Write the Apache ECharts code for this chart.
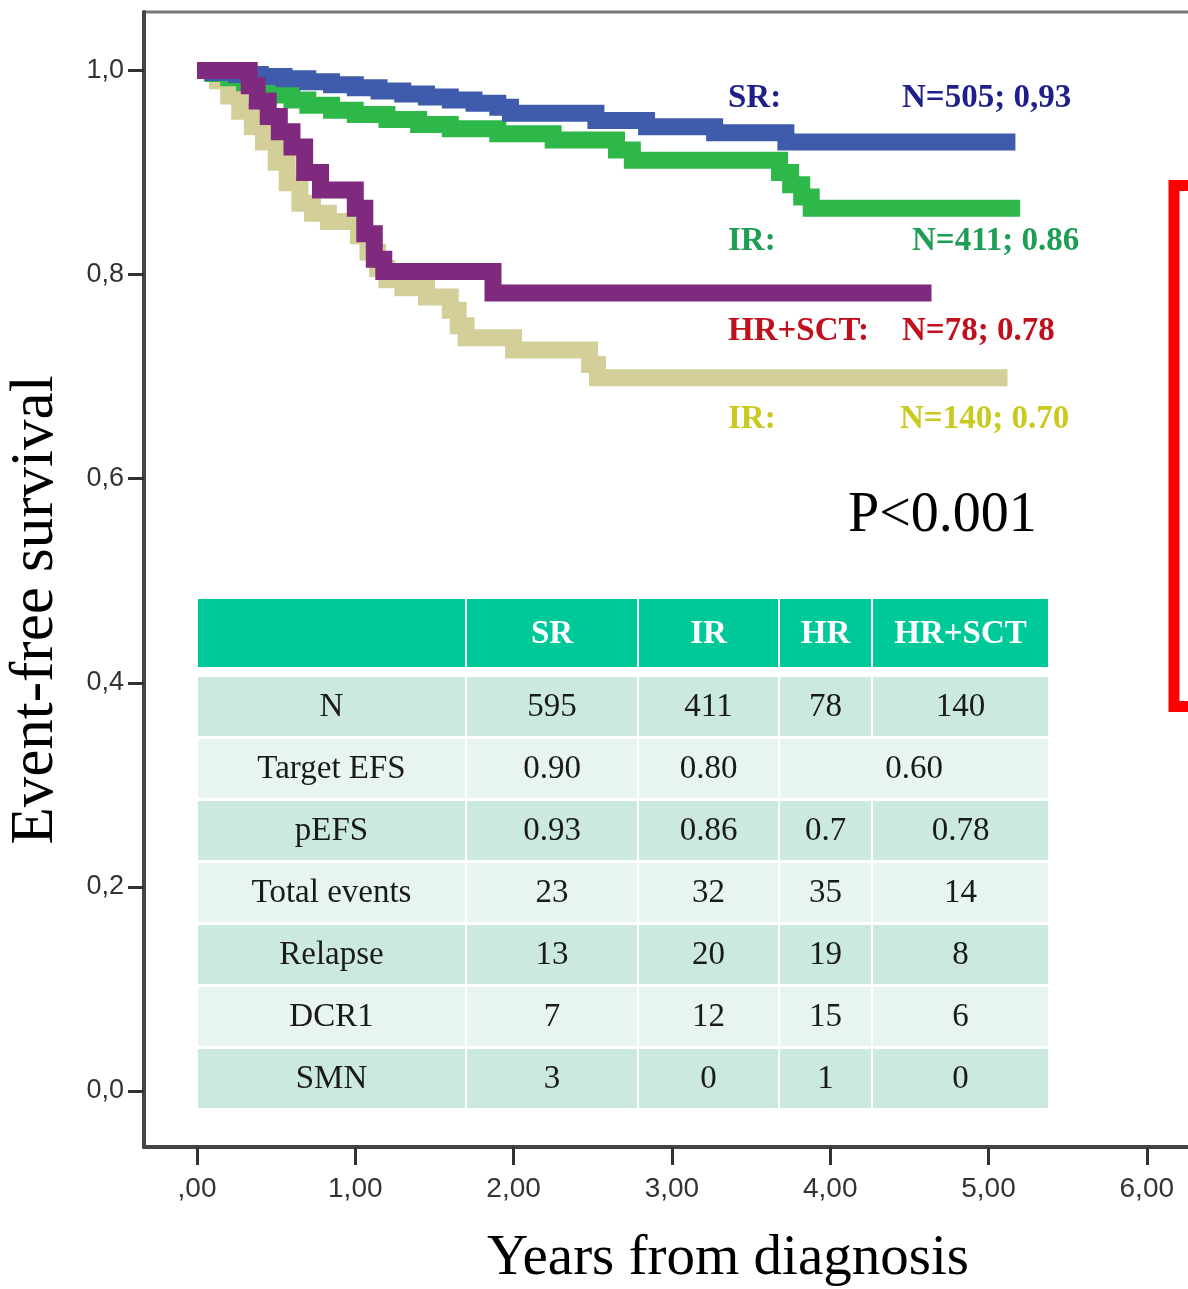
<!DOCTYPE html>
<html>
<head>
<meta charset="utf-8">
<title>Event-free survival</title>
<script src="https://cdn.jsdelivr.net/npm/echarts@6/dist/echarts.min.js"></script>
<style>
  html, body { margin: 0; padding: 0; background: #fff; }
  #chart { width: 1188px; height: 1289px; }
</style>
</head>
<body>
<div id="chart"></div>
<script>
// Kaplan-Meier steps (years, survival from that time on)
const srTimes  = [0, 0.10, 0.25, 0.40, 0.55, 0.70, 0.85, 1.00, 1.15, 1.30, 1.45, 1.60, 1.75, 1.90, 1.98, 2.52, 2.84, 3.27, 3.72, 5.17];
const srValues = [1, 0.998, 0.996, 0.994, 0.992, 0.989, 0.986, 0.983, 0.980, 0.977, 0.974, 0.971, 0.968, 0.964, 0.958, 0.951, 0.945, 0.939, 0.930, 0.930];

const irTimes  = [0, 0.10, 0.20, 0.30, 0.40, 0.50, 0.60, 0.70, 0.85, 1.00, 1.20, 1.40, 1.60, 1.90, 2.25, 2.65, 2.75, 3.68, 3.75, 3.82, 3.88, 5.20];
const irValues = [1, 0.997, 0.993, 0.988, 0.982, 0.976, 0.971, 0.966, 0.961, 0.957, 0.952, 0.947, 0.943, 0.938, 0.932, 0.922, 0.912, 0.900, 0.888, 0.876, 0.865, 0.865];

const hrSctTimes  = [0, 0.33, 0.38, 0.45, 0.52, 0.60, 0.68, 0.78, 1.00, 1.06, 1.12, 1.18, 1.87, 4.64];
const hrSctValues = [1, 0.985, 0.970, 0.955, 0.940, 0.925, 0.900, 0.883, 0.865, 0.840, 0.815, 0.803, 0.782, 0.782];

const hrTimes  = [0, 0.13, 0.20, 0.27, 0.35, 0.42, 0.50, 0.57, 0.65, 0.73, 0.83, 1.02, 1.08, 1.14, 1.20, 1.30, 1.45, 1.60, 1.65, 1.70, 2.00, 2.48, 2.53, 5.12];
const hrValues = [1, 0.990, 0.975, 0.960, 0.945, 0.930, 0.910, 0.890, 0.870, 0.860, 0.852, 0.838, 0.822, 0.806, 0.795, 0.787, 0.778, 0.765, 0.750, 0.738, 0.726, 0.712, 0.699, 0.699];

const xTicks = [0, 1, 2, 3, 4, 5, 6];
const yTicks = [0, 0.2, 0.4, 0.6, 0.8, 1.0];

const curveLabels = [
  { group: 'SR:',     stat: 'N=505; 0,93', color: '#1f1f8c', y: 98,  statX: 902 },
  { group: 'IR:',     stat: 'N=411; 0.86', color: '#1e9e55', y: 241, statX: 912 },
  { group: 'HR+SCT:', stat: 'N=78; 0.78',  color: '#c0101c', y: 331, statX: 902 },
  { group: 'IR:',     stat: 'N=140; 0.70', color: '#c9c91e', y: 419, statX: 900 }
];

const tableHeader = ['', 'SR', 'IR', 'HR', 'HR+SCT'];
// null = merged into the cell on its left
const tableRows = [
  ['N', '595', '411', '78', '140'],
  ['Target EFS', '0.90', '0.80', '0.60', null],
  ['pEFS', '0.93', '0.86', '0.7', '0.78'],
  ['Total events', '23', '32', '35', '14'],
  ['Relapse', '13', '20', '19', '8'],
  ['DCR1', '7', '12', '15', '6'],
  ['SMN', '3', '0', '1', '0']
];

const pair = (t, v) => t.map((x, i) => [x, v[i]]);
const serif = '"Liberation Serif", "Times New Roman", serif';
const sans = '"Liberation Sans", Arial, sans-serif';

// table layout
const colEdges = [[198, 465], [467, 637], [639, 778], [780, 871], [873, 1048]];
const headTop = 599, headH = 68;
const rowTop = 677, rowPitch = 62, rowH = 59;
const graphic = [];

tableHeader.forEach((h, c) => {
  const [x0, x1] = colEdges[c];
  graphic.push({ type: 'rect', shape: { x: x0, y: headTop, width: x1 - x0, height: headH }, style: { fill: '#00c999' }, z: 1 });
  if (h) graphic.push({ type: 'text', x: (x0 + x1) / 2, y: headTop + headH / 2 + 1, style: { text: h, fill: '#fff', font: 'bold 33px ' + serif, align: 'center', verticalAlign: 'middle' }, z: 2 });
});

tableRows.forEach((row, r) => {
  const y = rowTop + r * rowPitch;
  const fill = r % 2 === 0 ? '#cbeadd' : '#e7f5ee';
  row.forEach((cell, c) => {
    if (cell === null) return;
    let [x0, x1] = colEdges[c];
    let k = c + 1;
    while (k < row.length && row[k] === null) { x1 = colEdges[k][1]; k++; }
    graphic.push({ type: 'rect', shape: { x: x0, y: y, width: x1 - x0, height: rowH }, style: { fill: fill }, z: 1 });
    graphic.push({ type: 'text', x: (x0 + x1) / 2, y: y + rowH / 2 + 1, style: { text: cell, fill: '#1a1a1a', font: '33px ' + serif, align: 'center', verticalAlign: 'middle' }, z: 2 });
  });
});

curveLabels.forEach(l => {
  graphic.push({ type: 'text', x: 728, y: l.y, style: { text: l.group, fill: l.color, font: 'bold 33px ' + serif, verticalAlign: 'middle' }, z: 3 });
  graphic.push({ type: 'text', x: l.statX, y: l.y, style: { text: l.stat, fill: l.color, font: 'bold 33px ' + serif, verticalAlign: 'middle' }, z: 3 });
});

graphic.push({ type: 'text', x: 848, y: 516, style: { text: 'P<0.001', fill: '#000', font: '56px ' + serif, verticalAlign: 'middle' }, z: 3 });
graphic.push({ type: 'text', x: 728, y: 1259, style: { text: 'Years from diagnosis', fill: '#000', font: '57px ' + serif, align: 'center', verticalAlign: 'middle' }, z: 3 });
graphic.push({ type: 'text', x: 36, y: 610, rotation: Math.PI / 2, style: { text: 'Event-free survival', fill: '#000', font: '61px ' + serif, align: 'center', verticalAlign: 'middle' }, z: 3 });
// red box cut by the right edge
graphic.push({ type: 'rect', shape: { x: 1174, y: 185.5, width: 200, height: 521 }, style: { fill: 'none', stroke: '#ff0000', lineWidth: 11 }, z: 3 });

const chart = echarts.init(document.getElementById('chart'));

const kmSeries = (name, t, v, color) => ({
  name: name,
  type: 'line',
  step: 'end',
  data: pair(t, v),
  showSymbol: false,
  silent: true,
  lineStyle: { width: 17, color: color, cap: 'butt', join: 'miter' },
  z: 4
});

chart.setOption({
  animation: false,
  backgroundColor: '#fff',
  grid: {
    left: 144, top: 12, right: -40, bottom: 142,
    outerBoundsMode: 'none', containLabel: false,
    show: true, borderColor: '#777', borderWidth: 3, backgroundColor: 'transparent'
  },
  xAxis: {
    type: 'value',
    min: (144 - 197) / 158.3,
    max: (1228 - 197) / 158.3,
    axisLine: { show: true, onZero: false, lineStyle: { color: '#444', width: 4 } },
    axisTick: { show: true, inside: false, length: 18, lineStyle: { color: '#333', width: 3 }, customValues: xTicks },
    axisLabel: {
      customValues: xTicks, margin: 28, color: '#333', fontFamily: sans, fontSize: 28,
      formatter: v => v === 0 ? ',00' : v.toFixed(2).replace('.', ',')
    },
    splitLine: { show: false }
  },
  yAxis: {
    type: 'value',
    min: -(1147 - 1091) / 1020.5,
    max: 1 + (70.5 - 12) / 1020.5,
    axisLine: { show: true, onZero: false, lineStyle: { color: '#444', width: 4 } },
    axisTick: { show: true, inside: false, length: 16, lineStyle: { color: '#333', width: 3 }, customValues: yTicks },
    axisLabel: {
      customValues: yTicks, margin: 20, color: '#333', fontFamily: sans, fontSize: 27,
      formatter: v => v.toFixed(1).replace('.', ',')
    },
    splitLine: { show: false }
  },
  series: [
    kmSeries('HR', hrTimes, hrValues, '#d4cf98'),
    kmSeries('IR', irTimes, irValues, '#2fb84a'),
    kmSeries('SR', srTimes, srValues, '#3f5bab'),
    kmSeries('HR+SCT', hrSctTimes, hrSctValues, '#7f2a7e')
  ],
  graphic: graphic
});
</script>
</body>
</html>
